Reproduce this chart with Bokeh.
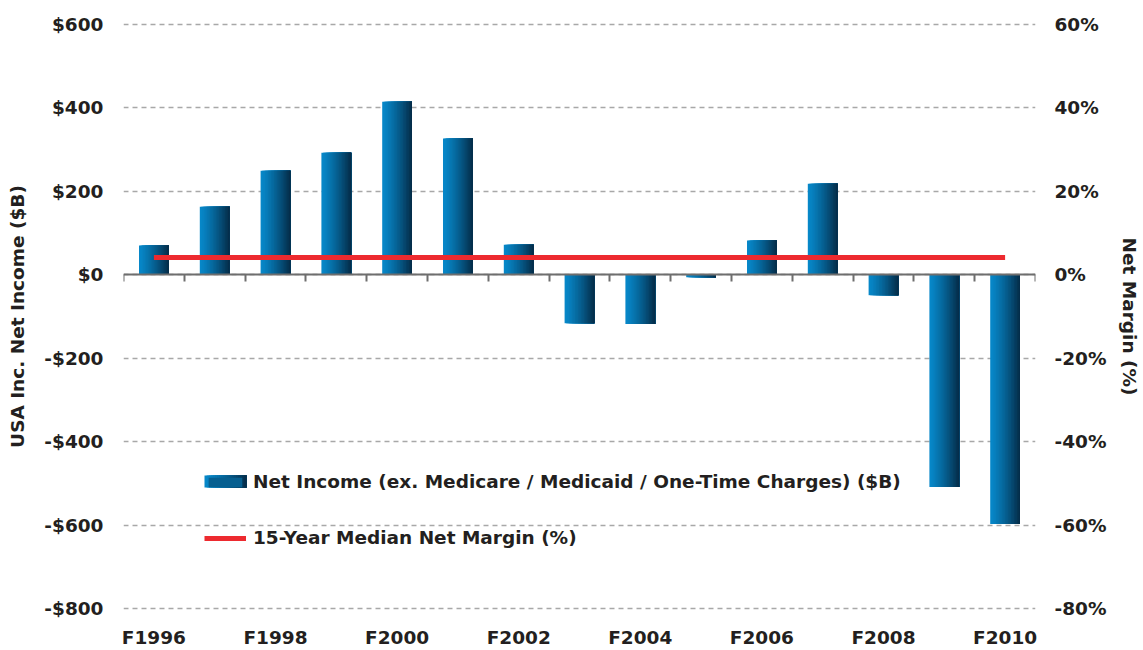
import math
from bokeh.plotting import figure
from bokeh.models import (Range1d, LinearAxis, FixedTicker, Legend, LegendItem,
                          BoxAnnotation, ColumnDataSource)
from bokeh.embed import file_html
from bokeh.resources import INLINE

# ---------------- data ----------------
years = ["F1996", "F1997", "F1998", "F1999", "F2000", "F2001", "F2002", "F2003",
         "F2004", "F2005", "F2006", "F2007", "F2008", "F2009", "F2010"]
net_income = [70, 163, 249, 292, 414, 326, 72, -116, -118, -6, 82, 218, -49, -508, -597]
median_margin = 4.1  # percent

x_label_years = ["F1996", "F1998", "F2000", "F2002", "F2004", "F2006", "F2008", "F2010"]
y_ticks = [-800, -600, -400, -200, 0, 200, 400, 600]
y_tick_labels = ["-$800", "-$600", "-$400", "-$200", "$0", "$200", "$400", "$600"]
pct_ticks = [-80, -60, -40, -20, 0, 20, 40, 60]
pct_tick_labels = ["-80%", "-60%", "-40%", "-20%", "0%", "20%", "40%", "60%"]

bar_label = "Net Income (ex. Medicare / Medicaid / One-Time Charges) ($B)"
line_label = "15-Year Median Net Margin (%)"
left_title = "USA Inc. Net Income ($B)"
right_title = "Net Margin (%)"

# ---------------- style ----------------
FONT = "DejaVu Sans"
FSIZE = "18.5px"
TXT = "#231f20"
C_LEFT = (7, 135, 200)
C_RIGHT = (5, 46, 75)
N_STRIPS = 20
BAR_W = 0.49
RED = "#ed2a2f"
PAD = 4  # small range padding so edge gridlines are fully visible


def mix(t):
    t = t ** 1.25
    r, g, b = [int(round(a + (b_ - a) * t)) for a, b_ in zip(C_LEFT, C_RIGHT)]
    return "#%02x%02x%02x" % (r, g, b)


strip_colors = [mix(k / (N_STRIPS - 1)) for k in range(N_STRIPS)]

# gradient: nested rectangles, each running from its own left edge to the bar's right edge
lefts, rights, tops, cols = [], [], [], []
sw = BAR_W / N_STRIPS
for k in range(N_STRIPS):
    for i, v in enumerate(net_income):
        center = i + 0.5
        lefts.append(center - BAR_W / 2 + k * sw)
        rights.append(center + BAR_W / 2)
        tops.append(v)
        cols.append(strip_colors[k])
src = ColumnDataSource(dict(left=lefts, right=rights, top=tops, color=cols))

p = figure(width=1143, height=650,
           x_range=Range1d(0, len(years)),
           y_range=Range1d(y_ticks[0] - PAD, y_ticks[-1] + PAD),
           output_backend="svg", toolbar_location=None,
           min_border_left=123, min_border_right=107, min_border_top=22, min_border_bottom=40)
p.outline_line_color = None
p.extra_y_ranges = {"pct": Range1d(pct_ticks[0] - PAD / 10, pct_ticks[-1] + PAD / 10)}

bars = p.quad(left="left", right="right", top="top", bottom=0, fill_color="color",
              line_color=None, source=src)

line = p.line(x=[0.5, len(years) - 0.5], y=[median_margin, median_margin],
              y_range_name="pct", line_color=RED, line_width=5)

# grid
p.xgrid.visible = False
p.ygrid.ticker = FixedTicker(ticks=y_ticks)
p.ygrid.grid_line_color = "#a8a8a8"
p.ygrid.grid_line_width = 1.5
p.ygrid.grid_line_dash = "5 4"

# left axis
ya = p.yaxis[0]
ya.ticker = FixedTicker(ticks=y_ticks)
ya.major_label_overrides = dict(zip(y_ticks, y_tick_labels))
ya.axis_line_color = None
ya.major_tick_line_color = None
ya.minor_tick_line_color = None
ya.major_tick_out = 0
ya.major_tick_in = 0
ya.major_label_standoff = 20
ya.axis_label = left_title
ya.axis_label_standoff = 13

# right axis
ra = LinearAxis(y_range_name="pct", ticker=FixedTicker(ticks=pct_ticks),
                major_label_overrides=dict(zip(pct_ticks, pct_tick_labels)),
                axis_line_color=None, major_tick_line_color=None, minor_tick_line_color=None,
                major_tick_out=0, major_tick_in=0, major_label_standoff=19,
                axis_label=right_title, axis_label_standoff=10)
if "axis_label_orientation" in ra.properties():
    ra.axis_label_orientation = "vertical"
p.add_layout(ra, "right")

# bottom axis (labels only)
xa = p.xaxis[0]
xt = [years.index(y) + 0.5 for y in x_label_years]
xa.ticker = FixedTicker(ticks=xt)
xa.major_label_overrides = dict(zip(xt, x_label_years))
xa.axis_line_color = None
xa.major_tick_line_color = None
xa.minor_tick_line_color = None
xa.major_tick_out = 0
xa.major_tick_in = 0
xa.major_label_standoff = 16

# zero line axis with ticks at category boundaries
bounds = list(range(len(years) + 1))
za = LinearAxis(fixed_location=0, ticker=FixedTicker(ticks=bounds),
                major_label_overrides={b: "" for b in bounds},
                axis_line_color="#6e6e6e", axis_line_width=2,
                major_tick_line_color="#6e6e6e", major_tick_line_width=2,
                major_tick_in=0, major_tick_out=7, minor_tick_line_color=None)
p.add_layout(za, "below")

for ax in [ya, ra, xa]:
    ax.major_label_text_font = FONT
    ax.major_label_text_font_size = FSIZE
    ax.major_label_text_font_style = "bold"
    ax.major_label_text_color = TXT
    ax.axis_label_text_font = FONT
    ax.axis_label_text_font_size = FSIZE
    ax.axis_label_text_font_style = "bold"
    ax.axis_label_text_color = TXT

legend = Legend(items=[LegendItem(label=bar_label, renderers=[bars], index=15 * 10),
                       LegendItem(label=line_label, renderers=[line])],
                location=(81, 62), glyph_width=42, glyph_height=12, label_standoff=7,
                spacing=35, padding=0, margin=0, border_line_color=None,
                background_fill_alpha=0, label_text_font=FONT,
                label_text_font_size=FSIZE, label_text_font_style="bold",
                label_text_color=TXT)
p.add_layout(legend, "center")

# gradient swatch drawn over the legend glyph
sw_left, sw_top, sw_w, sw_h = 204, 475, 42, 12
nl = 20
for k in range(nl):
    p.add_layout(BoxAnnotation(left=sw_left + k * sw_w / nl, right=sw_left + sw_w,
                               top=sw_top, bottom=sw_top + sw_h,
                               left_units="canvas", right_units="canvas",
                               top_units="canvas", bottom_units="canvas",
                               fill_color=mix(k / (nl - 1)), fill_alpha=1, line_color=None))

open("out.html", "w").write(file_html(p, INLINE))
